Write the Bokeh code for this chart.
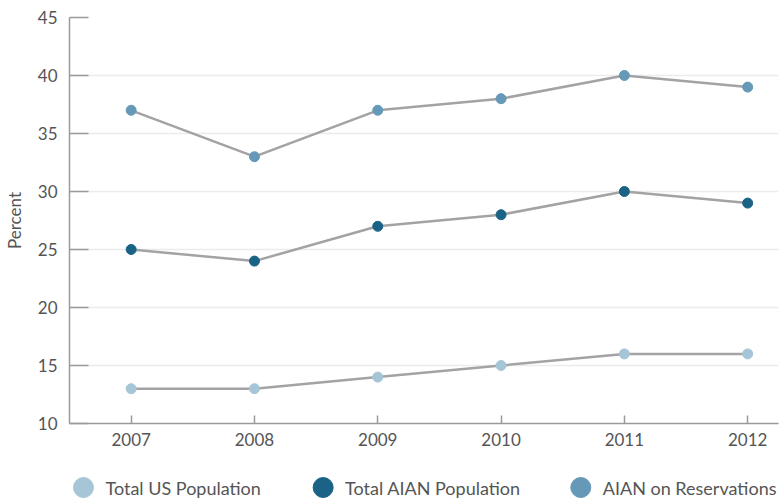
from bokeh.plotting import figure
from bokeh.layouts import column
from bokeh.models import FixedTicker, Range1d
from bokeh.core.properties import value
from bokeh.embed import file_html
from bokeh.resources import INLINE

years = [2007, 2008, 2009, 2010, 2011, 2012]
us_population = [13, 13, 14, 15, 16, 16]
aian_population = [25, 24, 27, 28, 30, 29]
aian_reservations = [37, 33, 37, 38, 40, 39]
y_ticks = [10, 15, 20, 25, 30, 35, 40, 45]

series_names = ["Total US Population", "Total AIAN Population", "AIAN on Reservations"]
series_colors = ["#a6c6d7", "#1a6386", "#6699b7"]
series_values = [us_population, aian_population, aian_reservations]

FONT = "Lato"
TEXT_COLOR = "#555555"
AXIS_COLOR = "#9a9a9a"
LINE_COLOR = "#a3a3a6"

p = figure(
    width=784, height=455,
    x_range=Range1d(2006.5, 2012.25), y_range=Range1d(10, 45),
    output_backend="svg", toolbar_location=None,
    min_border_left=68, min_border_right=6, min_border_top=17, min_border_bottom=32,
)
p.outline_line_color = None
p.xgrid.grid_line_color = None
p.ygrid.grid_line_color = "#ececec"
p.ygrid.grid_line_width = 1.5
p.ygrid.ticker = FixedTicker(ticks=y_ticks)

p.xaxis.ticker = FixedTicker(ticks=years)
p.yaxis.ticker = FixedTicker(ticks=y_ticks)
for ax in (p.xaxis[0], p.yaxis[0]):
    ax.axis_line_color = AXIS_COLOR
    ax.axis_line_width = 1.5
    ax.major_tick_line_color = AXIS_COLOR
    ax.major_tick_line_width = 1.5
    ax.minor_tick_line_color = None
    ax.major_tick_out = 0
    ax.major_label_text_font = FONT
    ax.major_label_text_color = TEXT_COLOR
    ax.major_label_text_font_size = "17px"
p.xaxis.major_tick_in = 8
p.yaxis.major_tick_in = 19
p.xaxis.major_label_standoff = 9
p.yaxis.major_label_standoff = 12
p.yaxis.axis_label = "Percent"
p.yaxis.axis_label_text_font = FONT
p.yaxis.axis_label_text_font_style = "normal"
p.yaxis.axis_label_text_font_size = "17px"
p.yaxis.axis_label_text_color = TEXT_COLOR
p.yaxis.axis_label_standoff = 10

for vals, color in zip(series_values, series_colors):
    p.line(years, vals, line_color=LINE_COLOR, line_width=2.5)
    p.scatter(years, vals, size=10, fill_color=color, line_color=color)

# Legend strip beneath the chart; its frame lines up with the chart frame
# (68..778 px), so the x range is expressed in page pixels.
leg = figure(
    width=784, height=45,
    x_range=Range1d(68, 778), y_range=Range1d(0, 45),
    output_backend="svg", toolbar_location=None,
    min_border_left=68, min_border_right=6, min_border_top=0, min_border_bottom=0,
)
leg.axis.visible = False
leg.grid.visible = False
leg.outline_line_color = None
leg_x = [82, 322, 580]
leg.scatter(leg_x, [13] * 3, size=20, fill_color=series_colors, line_color=series_colors)
leg.text([x + 22 for x in leg_x], [13] * 3, text=series_names,
         text_font=value(FONT), text_font_size="18px", text_color=TEXT_COLOR,
         text_baseline="middle", text_align="left")

layout = column(p, leg, spacing=0)
open("out.html", "w").write(file_html(layout, INLINE))
